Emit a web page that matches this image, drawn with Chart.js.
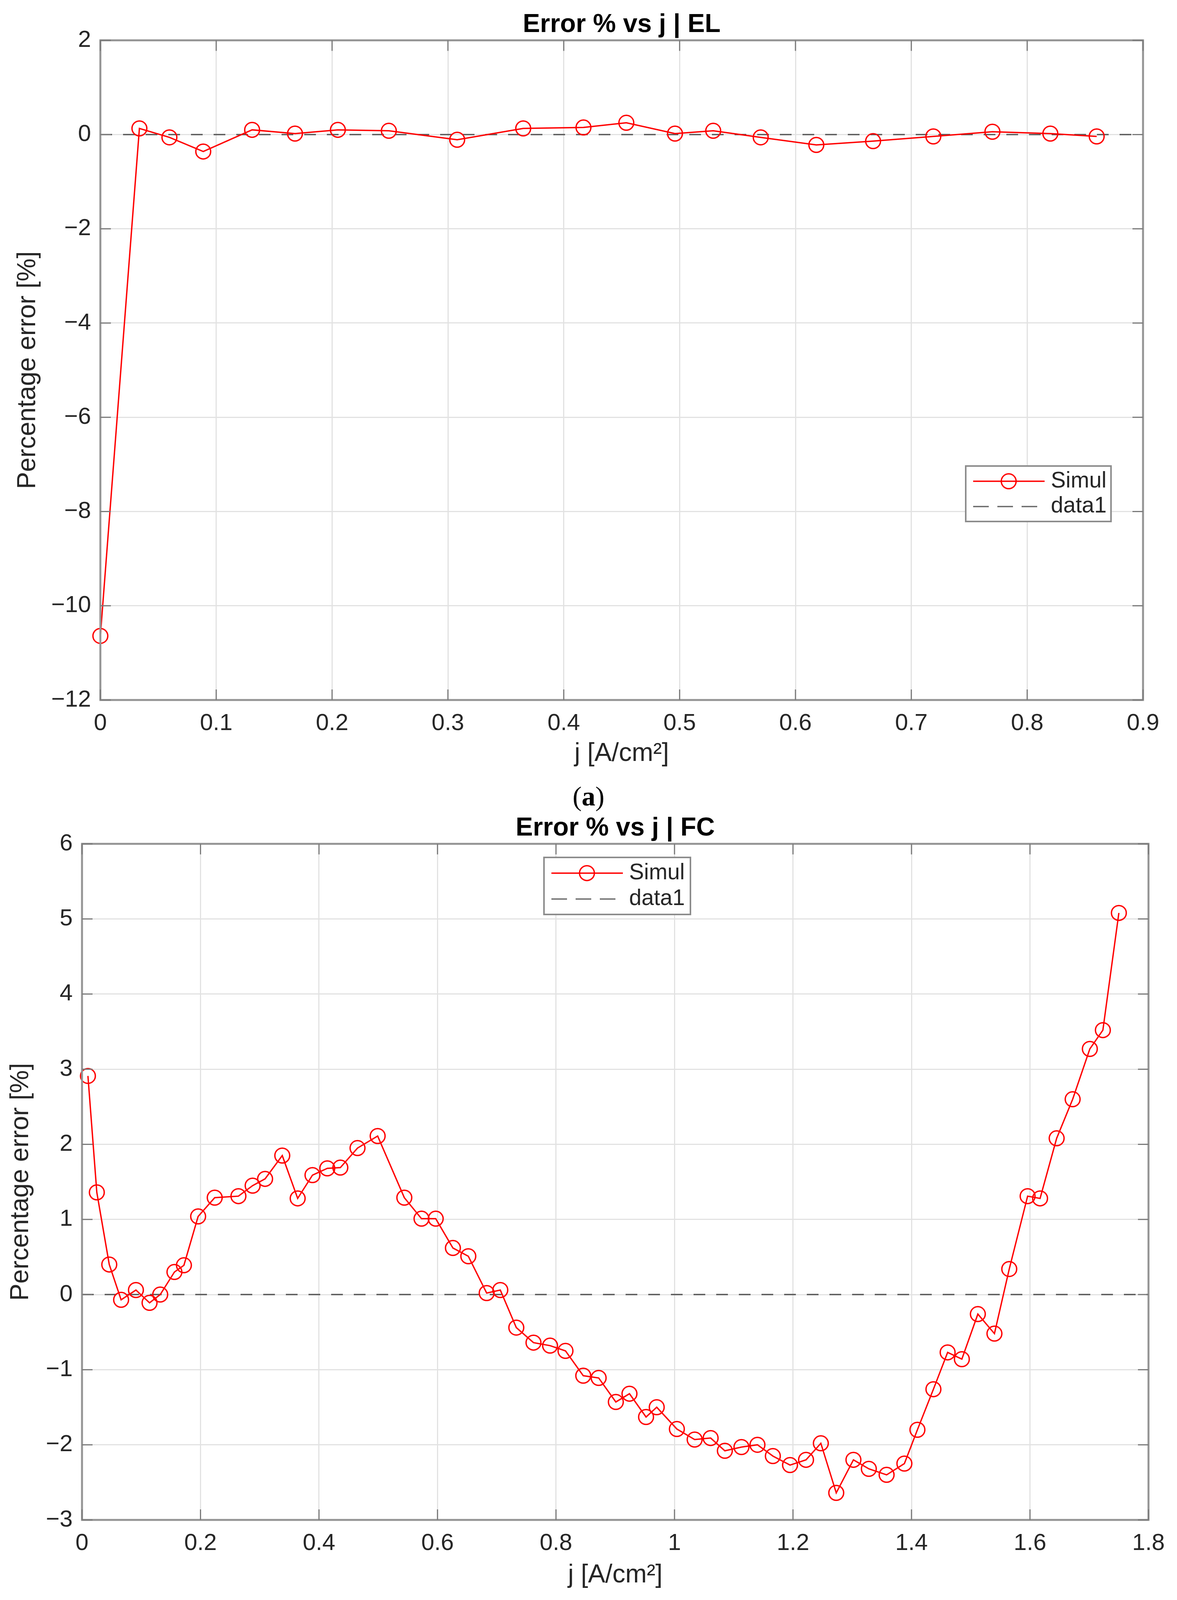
<!DOCTYPE html>
<html>
<head>
<meta charset="utf-8">
<script src="https://cdn.jsdelivr.net/npm/chart.js@4.4.1/dist/chart.umd.min.js"></script>
<style>
  html, body { margin: 0; padding: 0; background: #fff; }
  #page { position: relative; width: 3014px; height: 4199px; overflow: hidden; }
  .box { position: absolute; left: 0; }
  .cap { position: absolute; left: 0; width: 3014px; text-align: center; line-height: 70px;
         font-family: 'Liberation Serif', 'Times New Roman', serif; font-size: 70px; color: #000; }
</style>
</head>
<body>
<div id="page">
  <div class="box" style="top:0px"><canvas id="chartEL" width="3014" height="2000"></canvas></div>
  <div class="cap" style="top:2004px">(<b>a</b>)</div>
  <div class="box" style="top:2060px"><canvas id="chartFC" width="3014" height="2040"></canvas></div>
  <div class="cap" style="top:4104px">(<b>b</b>)</div>
</div>
<script>
// EL (electrolyzer) error data
const elJ = [0, 0.0337, 0.0596, 0.0888, 0.131, 0.168, 0.205, 0.249, 0.308, 0.365, 0.417,
             0.454, 0.496, 0.529, 0.570, 0.618, 0.667, 0.719, 0.770, 0.820, 0.860];
const elErr = [-10.64, 0.13, -0.06, -0.36, 0.10, 0.02, 0.10, 0.08, -0.11, 0.13, 0.15,
               0.25, 0.02, 0.08, -0.06, -0.22, -0.14, -0.04, 0.06, 0.02, -0.04];
const elRefJ = [0, 0.9];
const elRefErr = [0, 0];
const elXTicks = [0, 0.1, 0.2, 0.3, 0.4, 0.5, 0.6, 0.7, 0.8, 0.9];
const elYTicks = [-12, -10, -8, -6, -4, -2, 0, 2];

// FC (fuel cell) error data
const fcJ = [0.010, 0.025, 0.046, 0.066, 0.091, 0.114, 0.132, 0.156, 0.172, 0.196,
             0.224, 0.264, 0.288, 0.309, 0.338, 0.364, 0.389, 0.414, 0.436, 0.465,
             0.499, 0.544, 0.573, 0.597, 0.626, 0.652, 0.683, 0.706, 0.733, 0.762,
             0.790, 0.816, 0.846, 0.872, 0.901, 0.924, 0.952, 0.970, 1.004, 1.034,
             1.061, 1.085, 1.113, 1.140, 1.166, 1.195, 1.222, 1.247, 1.273, 1.302,
             1.328, 1.358, 1.388, 1.410, 1.437, 1.461, 1.485, 1.512, 1.540, 1.565,
             1.596, 1.617, 1.645, 1.672, 1.701, 1.723, 1.750];
const fcErr = [2.91, 1.36, 0.40, -0.07, 0.06, -0.11, 0.00, 0.30, 0.39, 1.04,
               1.29, 1.31, 1.45, 1.54, 1.85, 1.28, 1.59, 1.68, 1.69, 1.95,
               2.11, 1.29, 1.01, 1.01, 0.62, 0.51, 0.02, 0.06, -0.44, -0.64,
               -0.68, -0.75, -1.08, -1.11, -1.43, -1.32, -1.63, -1.50, -1.79, -1.93,
               -1.91, -2.08, -2.03, -2.00, -2.15, -2.27, -2.20, -1.98, -2.64, -2.20,
               -2.32, -2.40, -2.25, -1.80, -1.26, -0.77, -0.86, -0.26, -0.52, 0.34,
               1.31, 1.28, 2.08, 2.60, 3.27, 3.52, 5.08];
const fcRefJ = [0, 1.8];
const fcRefErr = [0, 0];
const fcXTicks = [0, 0.2, 0.4, 0.6, 0.8, 1, 1.2, 1.4, 1.6, 1.8];
const fcYTicks = [-3, -2, -1, 0, 1, 2, 3, 4, 5, 6];

const seriesNames = ['Simul', 'data1'];

Chart.defaults.font.family = "'Liberation Sans', Arial, Helvetica, sans-serif";
Chart.defaults.color = '#262626';

const RED = '#ff0000';
const AXIS = '#949494';
const DASH = '#5a5a5a';

function fmt(v) {
  const s = String(Math.round(v * 10) / 10);
  return s.replace('-', '\u2212');
}

function toPoints(xs, ys) {
  return xs.map((x, i) => ({ x: x, y: ys[i] }));
}

// axes box, inward ticks and legend, MATLAB style
const matlabAxes = {
  id: 'matlabAxes',
  afterDatasetsDraw(chart, args, opts) {
    const ctx = chart.ctx;
    const a = chart.chartArea;
    const xs = chart.scales.x, ys = chart.scales.y;
    const tl = 27;
    ctx.save();
    ctx.strokeStyle = AXIS;
    ctx.lineWidth = 5;
    ctx.strokeRect(a.left, a.top, a.right - a.left, a.bottom - a.top);
    ctx.lineWidth = 3;
    ctx.strokeStyle = '#7a7a7a';
    ctx.beginPath();
    xs.ticks.forEach(t => {
      const px = xs.getPixelForValue(t.value);
      ctx.moveTo(px, a.bottom); ctx.lineTo(px, a.bottom - tl);
      ctx.moveTo(px, a.top); ctx.lineTo(px, a.top + tl);
    });
    ys.ticks.forEach(t => {
      const py = ys.getPixelForValue(t.value);
      ctx.moveTo(a.left, py); ctx.lineTo(a.left + tl, py);
      ctx.moveTo(a.right, py); ctx.lineTo(a.right - tl, py);
    });
    ctx.stroke();

    // legend
    const b = opts.box;
    ctx.fillStyle = '#fff';
    ctx.fillRect(b.x, b.y, b.w, b.h);
    ctx.strokeStyle = '#8c8c8c';
    ctx.lineWidth = 4;
    ctx.strokeRect(b.x, b.y, b.w, b.h);
    const r1 = b.y + b.h * 0.275, r2 = b.y + b.h * 0.73;
    const x0 = b.x + 19, x1 = b.x + 202;
    ctx.strokeStyle = RED;
    ctx.lineWidth = 3.5;
    ctx.beginPath();
    ctx.moveTo(x0, r1); ctx.lineTo(x1, r1);
    ctx.stroke();
    ctx.beginPath();
    ctx.arc(b.x + 110, r1, 19, 0, Math.PI * 2);
    ctx.stroke();
    ctx.strokeStyle = '#6e6e6e';
    ctx.setLineDash([40, 22]);
    ctx.beginPath();
    ctx.moveTo(x0, r2); ctx.lineTo(x1, r2);
    ctx.stroke();
    ctx.setLineDash([]);
    ctx.fillStyle = '#262626';
    ctx.font = "57px 'Liberation Sans', Arial, sans-serif";
    ctx.textBaseline = 'middle';
    ctx.textAlign = 'left';
    ctx.fillText(seriesNames[0], b.x + 218, r1);
    ctx.fillText(seriesNames[1], b.x + 218, r2);
    ctx.restore();
  }
};

function makeChart(id, cfg) {
  const ctx = document.getElementById(id).getContext('2d');
  return new Chart(ctx, {
    type: 'scatter',
    data: {
      datasets: [{
        label: seriesNames[0],
        data: toPoints(cfg.xs, cfg.ys),
        showLine: true,
        borderColor: RED,
        borderWidth: 3.5,
        pointStyle: 'circle',
        pointRadius: 19,
        pointHoverRadius: 19,
        pointBorderWidth: 3.5,
        pointBorderColor: RED,
        pointBackgroundColor: 'rgba(0,0,0,0)',
        clip: false,
        order: 1
      }, {
        label: seriesNames[1],
        data: toPoints(cfg.refX, cfg.refY),
        showLine: true,
        borderColor: DASH,
        borderWidth: 3.5,
        borderDash: [30, 28],
        pointRadius: 0,
        order: 2
      }]
    },
    options: {
      responsive: false,
      animation: false,
      devicePixelRatio: 1,
      layout: { padding: { left: 0, right: cfg.padRight, top: 0, bottom: 0 } },
      plugins: {
        legend: { display: false },
        tooltip: { enabled: false },
        title: {
          display: true,
          fullSize: false,
          text: cfg.title,
          color: '#000',
          font: { size: 66, weight: 'bold' },
          padding: { top: cfg.titleTop, bottom: cfg.titleBottom }
        },
        matlabAxes: { box: cfg.legend }
      },
      scales: {
        x: {
          type: 'linear',
          min: cfg.xTicks[0],
          max: cfg.xTicks[cfg.xTicks.length - 1],
          afterBuildTicks: s => { s.ticks = cfg.xTicks.map(v => ({ value: v })); },
          afterFit: s => { s.height = cfg.xAxisH; },
          grid: { color: '#e2e2e2', lineWidth: 3, drawTicks: false },
          border: { display: false },
          ticks: { font: { size: 60 }, padding: 24, maxRotation: 0, callback: v => fmt(v) },
          title: {
            display: true, text: 'j [A/cm\u00b2]', color: '#262626',
            font: { size: 66 }, padding: { top: 0, bottom: cfg.xTitlePad }
          }
        },
        y: {
          type: 'linear',
          min: cfg.yTicks[0],
          max: cfg.yTicks[cfg.yTicks.length - 1],
          afterBuildTicks: s => { s.ticks = cfg.yTicks.map(v => ({ value: v })); },
          afterFit: s => { s.width = cfg.yAxisW; },
          grid: { color: '#e2e2e2', lineWidth: 3, drawTicks: false },
          border: { display: false },
          ticks: { font: { size: 60 }, padding: 24, callback: v => fmt(v) },
          title: {
            display: true, text: 'Percentage error [%]', color: '#262626',
            font: { size: 66 }, padding: { top: cfg.yTitlePad, bottom: 0 }
          }
        }
      }
    },
    plugins: [matlabAxes]
  });
}

makeChart('chartEL', {
  xs: elJ, ys: elErr, refX: elRefJ, refY: elRefErr,
  xTicks: elXTicks, yTicks: elYTicks,
  title: 'Error % vs j | EL',
  titleTop: 24, titleBottom: 0,
  padRight: 87, xAxisH: 208, yAxisW: 257,
  xTitlePad: 31, yTitlePad: 32,
  legend: { x: 2473, y: 1193, w: 372, h: 142 }
});

makeChart('chartFC', {
  xs: fcJ, ys: fcErr, refX: fcRefJ, refY: fcRefErr,
  xTicks: fcXTicks, yTicks: fcYTicks,
  title: 'Error % vs j | FC',
  titleTop: 21, titleBottom: 0,
  padRight: 73, xAxisH: 209, yAxisW: 210,
  xTitlePad: 28, yTitlePad: 14,
  legend: { x: 1393, y: 135, w: 375, h: 146 }
});
</script>
</body>
</html>
